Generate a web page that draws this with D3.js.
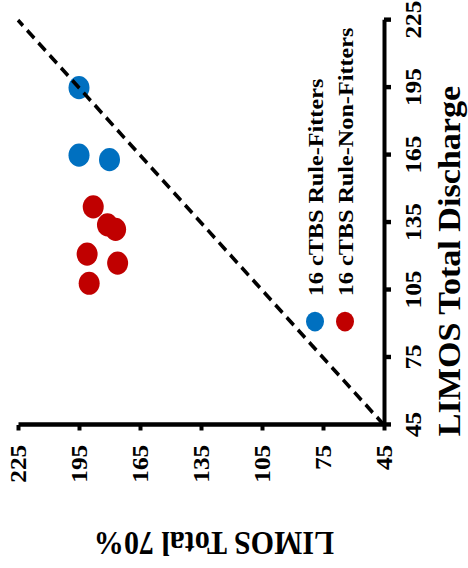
<!DOCTYPE html>
<html>
<head>
<meta charset="utf-8">
<script src="https://cdn.jsdelivr.net/npm/d3@7"></script>
<style>
    body { margin: 0; background: #fff; }
    text { font-family: "Liberation Serif", "Times New Roman", serif; font-weight: bold; fill: #000; }
</style>
</head>
<body>
<script>
//tick values shared by both axes
const tickValues = [45, 75, 105, 135, 165, 195, 225];

//rule-fitters (discharge, 70%)
const fitDischarge = [195, 165, 163];
const fitSeventy = [195, 195, 180];

//rule-non-fitters (discharge, 70%)
const nonDischarge = [142, 134, 132, 121, 117, 108];
const nonSeventy = [188, 181, 177, 191, 176, 190];

const legendLabels = ["16 cTBS Rule-Fitters", "16 cTBS Rule-Non-Fitters"];
const colors = ["#0070C0", "#C00000"];

function init() {
    var svg, g, xScale, yScale, xAxis, yAxis;

    //plot size before the chart is turned on its side
    const width = 368;
    const height = 366;

    svg = d3.select("body")
        .append("svg")
        .attr("width", 468)
        .attr("height", 568);

    //whole chart is rotated and a little stretched, like the picture
    g = svg.append("g")
        .attr("transform", "translate(18,425) scale(1,1.1) rotate(-90)");

    xScale = d3.scaleLinear().domain([45, 225]).range([0, width]);
    yScale = d3.scaleLinear().domain([45, 225]).range([height, 0]);

    xAxis = d3.axisBottom(xScale)
        .tickValues(tickValues)
        .tickSize(7)
        .tickSizeOuter(0)
        .tickPadding(14);

    yAxis = d3.axisLeft(yScale)
        .tickValues(tickValues)
        .tickSize(5)
        .tickSizeOuter(0)
        .tickPadding(13);

    const gx = g.append("g")
        .attr("transform", "translate(0," + height + ")")
        .call(xAxis);

    const gy = g.append("g")
        .call(yAxis);

    [gx, gy].forEach(function (a) {
        a.select(".domain").attr("stroke", "#000").attr("stroke-width", 4);
        a.selectAll(".tick line").attr("stroke", "#000").attr("stroke-width", 4);
        a.selectAll(".tick text")
            .attr("fill", "#000")
            .style("font-size", "23px")
            .style("font-family", "'Liberation Serif', serif")
            .style("font-weight", "bold");
    });

    //axis titles
    g.append("text")
        .attr("x", 149)
        .attr("y", height + 76)
        .attr("text-anchor", "middle")
        .style("font-size", "31px")
        .text("LIMOS Total Discharge");

    g.append("text")
        .attr("transform", "translate(-97," + 196 + ") rotate(-90)")
        .attr("text-anchor", "middle")
        .style("font-size", "30px")
        .text("LIMOS Total 70%");

    //points
    g.selectAll(".fit")
        .data(fitDischarge)
        .enter()
        .append("circle")
        .attr("cx", function (d) { return xScale(d); })
        .attr("cy", function (d, i) { return yScale(fitSeventy[i]); })
        .attr("r", 10.5)
        .attr("fill", colors[0]);

    g.selectAll(".non")
        .data(nonDischarge)
        .enter()
        .append("circle")
        .attr("cx", function (d) { return xScale(d); })
        .attr("cy", function (d, i) { return yScale(nonSeventy[i]); })
        .attr("r", 10.5)
        .attr("fill", colors[1]);

    //1:1 dashed line
    g.append("line")
        .attr("x1", xScale(45))
        .attr("y1", yScale(45))
        .attr("x2", xScale(225))
        .attr("y2", yScale(225))
        .attr("stroke", "#000")
        .attr("stroke-width", 3.5)
        .attr("stroke-dasharray", "10,6");

    //legend
    const legend = g.selectAll(".legend")
        .data(legendLabels)
        .enter()
        .append("g")
        .attr("transform", function (d, i) { return "translate(0," + (297 + i * 30) + ")"; });

    legend.append("circle")
        .attr("cx", 94)
        .attr("cy", 0)
        .attr("r", 9)
        .attr("fill", function (d, i) { return colors[i]; });

    legend.append("text")
        .attr("x", 117)
        .attr("dy", "0.35em")
        .style("font-size", "22px")
        .text(function (d) { return d; });
}

window.onload = init;
</script>
</body>
</html>
